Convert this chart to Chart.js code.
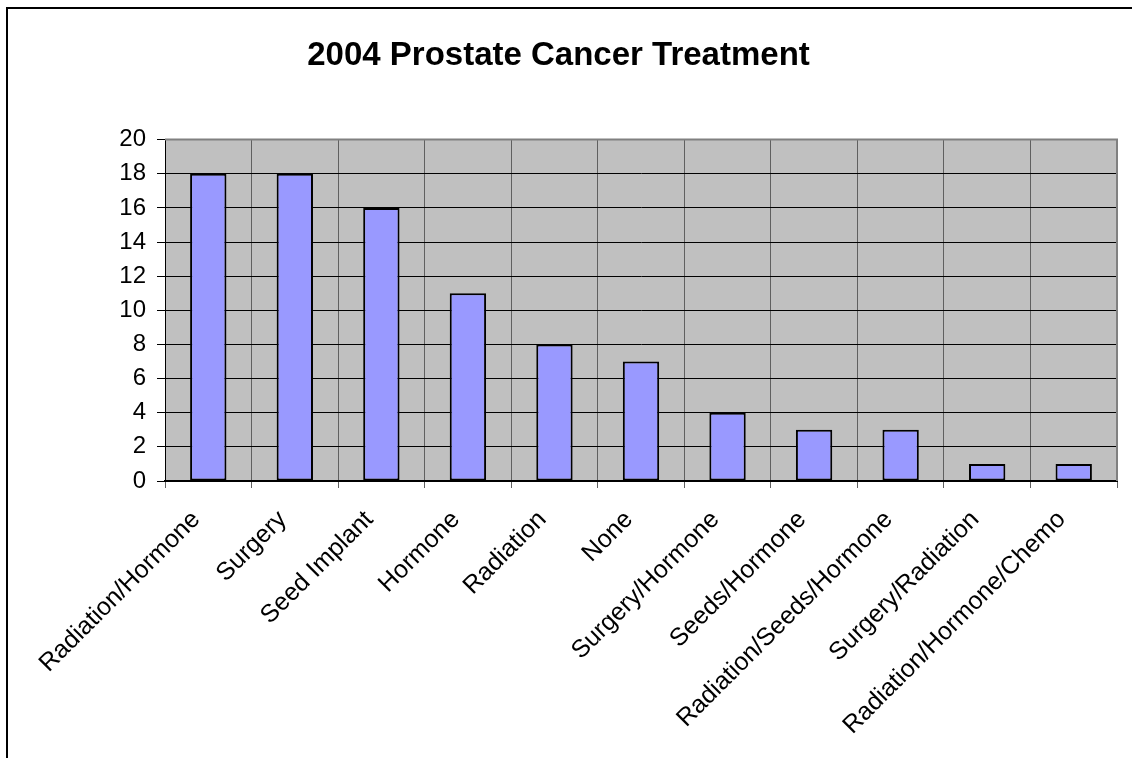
<!DOCTYPE html>
<html>
<head>
<meta charset="utf-8">
<title>2004 Prostate Cancer Treatment</title>
<script src="https://cdn.jsdelivr.net/npm/chart.js@4.4.1/dist/chart.umd.min.js"></script>
<style>
    html, body { margin: 0; background: #fff; overflow: hidden; }
    #grafico { display: block; }
</style>
</head>
<body>
<canvas id="grafico" width="1132" height="758"></canvas>
<script>
// Dados do gráfico
const tratamentos = [
    'Radiation/Hormone', 'Surgery', 'Seed Implant', 'Hormone', 'Radiation', 'None',
    'Surgery/Hormone', 'Seeds/Hormone', 'Radiation/Seeds/Hormone', 'Surgery/Radiation',
    'Radiation/Hormone/Chemo'
];
const pacientes = [18, 18, 16, 11, 8, 7, 4, 3, 3, 1, 1];
const eixoY = { min: 0, max: 20, passo: 2 };

const fonte = "'Liberation Sans', Arial, sans-serif";

// Moldura do gráfico, fundo cinza da área de plotagem e borda superior/direita
const fundoPlot = {
    id: 'fundoPlot',
    beforeDraw(chart) {
        const { ctx, chartArea: a, width, height } = chart;
        ctx.save();
        ctx.strokeStyle = '#000';
        ctx.lineWidth = 2;
        ctx.beginPath();
        ctx.moveTo(7, height + 2);
        ctx.lineTo(7, 8);
        ctx.lineTo(width + 2, 8);
        ctx.stroke();
        ctx.fillStyle = '#C0C0C0';
        ctx.fillRect(a.left, a.top, a.right - a.left, a.bottom - a.top);
        ctx.restore();
    },
    afterDraw(chart) {
        const { ctx, chartArea: a } = chart;
        ctx.save();
        ctx.strokeStyle = '#808080';
        ctx.lineWidth = 2;
        ctx.beginPath();
        ctx.moveTo(a.left, a.top);
        ctx.lineTo(a.right, a.top);
        ctx.lineTo(a.right, a.bottom);
        ctx.stroke();
        ctx.restore();
    }
};

const ctx = document.getElementById('grafico').getContext('2d');

const meuGrafico = new Chart(ctx, {
    type: 'bar',
    data: {
        labels: tratamentos,
        datasets: [{
            data: pacientes,
            backgroundColor: '#9999FF',
            borderColor: '#000000',
            borderWidth: 2,
            borderSkipped: false,
            categoryPercentage: 1,
            barPercentage: 0.42
        }]
    },
    options: {
        responsive: false,
        animation: false,
        layout: { padding: { top: 0, right: 15, bottom: 0, left: 0 } },
        plugins: {
            legend: { display: false },
            tooltip: { enabled: false },
            title: {
                display: true,
                text: '2004 Prostate Cancer Treatment',
                color: '#000',
                font: { family: fonte, size: 33, weight: 'bold' },
                padding: { top: 36, bottom: 64 }
            }
        },
        scales: {
            x: {
                afterFit(scale) { scale.height = 277; },
                grid: {
                    offset: true,
                    color: '#606060',
                    lineWidth: 1,
                    tickLength: 7,
                    drawOnChartArea: true
                },
                border: { color: '#000', width: 2 },
                ticks: {
                    color: '#000',
                    font: { family: fonte, size: 25 },
                    minRotation: 45,
                    maxRotation: 45,
                    autoSkip: false,
                    padding: 17,
                    labelOffset: -12
                }
            },
            y: {
                min: eixoY.min,
                max: eixoY.max,
                afterFit(scale) { scale.width = 165; },
                grid: {
                    color: '#000',
                    lineWidth: 1,
                    tickLength: 8
                },
                border: { color: '#000', width: 1 },
                ticks: {
                    stepSize: eixoY.passo,
                    color: '#000',
                    font: { family: fonte, size: 24 },
                    padding: 11
                }
            }
        }
    },
    plugins: [fundoPlot]
});
</script>
</body>
</html>
